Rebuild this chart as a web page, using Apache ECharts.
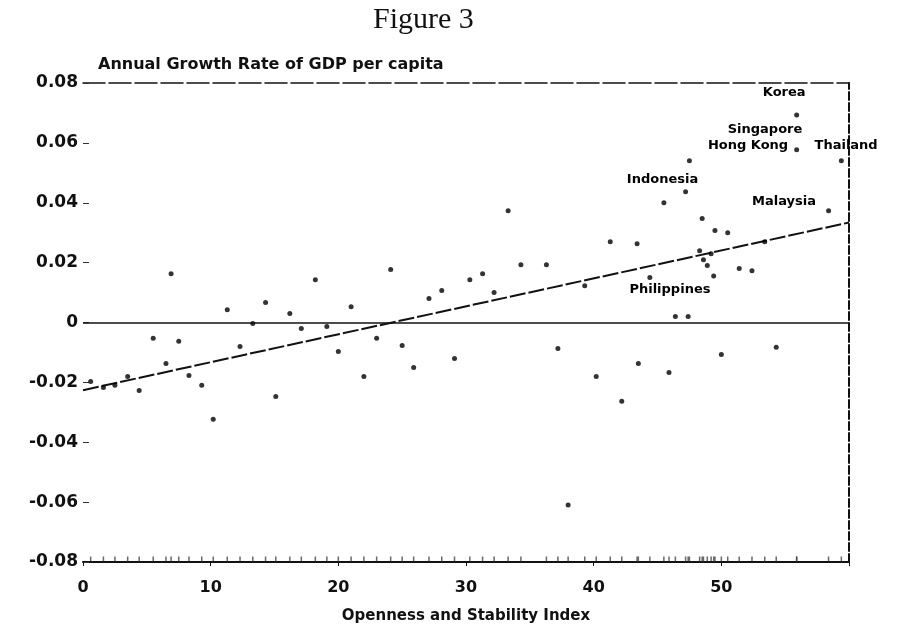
<!DOCTYPE html>
<html>
<head>
<meta charset="utf-8">
<script src="https://cdn.jsdelivr.net/npm/echarts@6/dist/echarts.min.js"></script>
<style>
  html, body { margin: 0; padding: 0; background: #fff; }
  #chart { width: 900px; height: 637px; }
</style>
</head>
<body>
<div id="chart"></div>
<script>
// openness index (x) and annual GDP per capita growth (y)
const pointsX = [0.6, 1.6, 2.5, 3.5, 4.4, 5.5, 6.5, 6.9, 7.5, 8.3, 9.3, 10.2, 11.3, 12.3, 13.3,
  14.3, 15.1, 16.2, 17.1, 18.2, 19.1, 20.0, 21.0, 22.0, 23.0, 24.1, 25.0, 25.9, 27.1, 28.1,
  29.1, 30.3, 31.3, 32.2, 33.3, 34.3, 36.3, 37.2, 38.0, 39.3, 40.2, 41.3, 42.2, 43.4, 43.5,
  44.4, 45.5, 45.9, 46.4, 47.2, 47.4, 47.5, 48.5, 48.3, 48.6, 48.9, 49.2, 49.4, 49.5, 50.0,
  50.5, 51.4, 52.4, 53.4, 54.3, 55.9, 55.9, 58.4, 59.4];
const pointsY = [-0.0197, -0.0217, -0.021, -0.018, -0.0227, -0.0053, -0.0137, 0.0163, -0.0063,
  -0.0177, -0.021, -0.0323, 0.0043, -0.008, -0.0003, 0.0067, -0.0247, 0.003, -0.002, 0.0143,
  -0.0013, -0.0097, 0.0053, -0.018, -0.0053, 0.0177, -0.0077, -0.015, 0.008, 0.0107, -0.012,
  0.0143, 0.0163, 0.010, 0.0373, 0.0193, 0.0193, -0.0087, -0.061, 0.0123, -0.018, 0.027,
  -0.0263, 0.0263, -0.0137, 0.015, 0.040, -0.0167, 0.002, 0.0437, 0.002, 0.054, 0.0347,
  0.024, 0.021, 0.019, 0.023, 0.0155, 0.0307, -0.0107, 0.030, 0.018, 0.0173, 0.027, -0.0083,
  0.0693, 0.0577, 0.0373, 0.054];

// fitted line end points
const trendX = [0, 60];
const trendY = [-0.0226, 0.0334];

// country annotations (start of each text, in data units)
const labelNames = ['Korea', 'Singapore', 'Hong Kong', 'Thailand', 'Indonesia', 'Malaysia', 'Philippines'];
const labelX = [53.25, 50.5, 48.95, 57.3, 42.6, 52.4, 42.8];
const labelY = [0.0767, 0.0643, 0.059, 0.059, 0.0477, 0.0403, 0.011];

const xTicks = [0, 10, 20, 30, 40, 50];

const ink = '#111';
const sans = 'DejaVu Sans';

const chart = echarts.init(document.getElementById('chart'));

chart.setOption({
  backgroundColor: '#fff',
  animation: false,
  title: [
    {
      text: 'Figure 3',
      left: 368,
      top: 0,
      textStyle: { fontFamily: 'Liberation Serif', fontSize: 30, fontWeight: 'normal', color: ink }
    },
    {
      text: 'Annual Growth Rate of GDP per capita',
      left: 93,
      top: 52,
      textStyle: { fontFamily: sans, fontSize: 16, fontWeight: 'bold', color: ink }
    }
  ],
  grid: { left: 83, right: 51, top: 83, bottom: 75 },
  xAxis: [
    {
      type: 'value',
      min: 0,
      max: 60,
      interval: 10,
      name: 'Openness and Stability Index',
      nameLocation: 'middle',
      nameGap: 47,
      nameTextStyle: { fontFamily: sans, fontSize: 15, fontWeight: 'bold', color: ink },
      axisLine: { onZero: false, lineStyle: { color: ink, width: 2 } },
      axisTick: { show: true, length: 4, lineStyle: { color: ink } },
      axisLabel: {
        margin: 18,
        fontFamily: sans,
        fontSize: 16,
        fontWeight: 'bold',
        color: ink,
        formatter: v => (xTicks.indexOf(v) >= 0 ? String(v) : '')
      },
      splitLine: { show: false }
    },
    {
      type: 'value',
      position: 'top',
      min: 0,
      max: 60,
      axisLine: { show: true, onZero: false, lineStyle: { color: ink, width: 1.5, type: [22, 4] } },
      axisTick: { show: false },
      axisLabel: { show: false },
      splitLine: { show: false }
    }
  ],
  yAxis: [
    {
      type: 'value',
      min: -0.08,
      max: 0.08,
      interval: 0.02,
      axisLine: { show: false, onZero: false },
      axisTick: { show: true, inside: true, length: 6, lineStyle: { color: '#333' } },
      axisLabel: {
        margin: 5,
        fontFamily: sans,
        fontSize: 17,
        fontWeight: 'bold',
        color: ink,
        formatter: v => (Math.abs(v) < 1e-9 ? '0' : v.toFixed(2))
      },
      splitLine: { show: false }
    },
    {
      type: 'value',
      position: 'right',
      min: -0.08,
      max: 0.08,
      axisLine: { show: true, onZero: false, lineStyle: { color: ink, width: 2, type: [8, 3] } },
      axisTick: { show: false },
      axisLabel: { show: false },
      splitLine: { show: false }
    }
  ],
  series: [
    {
      name: 'countries',
      type: 'scatter',
      symbol: 'circle',
      symbolSize: 5,
      itemStyle: { color: '#000' },
      data: pointsX.map((x, i) => [x, pointsY[i]]),
      markLine: {
        silent: true,
        symbol: 'none',
        label: { show: false },
        lineStyle: { color: ink, width: 1.5, type: 'solid' },
        data: [{ yAxis: 0 }]
      },
      z: 3
    },
    {
      name: 'rug',
      type: 'scatter',
      symbol: 'rect',
      symbolSize: [1.5, 5],
      symbolOffset: [0, -3],
      itemStyle: { color: '#444' },
      data: pointsX.map(x => [x, -0.08]),
      z: 2
    },
    {
      name: 'fit',
      type: 'line',
      symbol: 'none',
      lineStyle: { color: ink, width: 2, type: [16, 3] },
      data: trendX.map((x, i) => [x, trendY[i]]),
      z: 2
    },
    {
      name: 'labels',
      type: 'scatter',
      symbolSize: 0,
      silent: true,
      itemStyle: { color: '#000', opacity: 1 },
      data: labelNames.map((n, i) => ({ name: n, value: [labelX[i], labelY[i]] })),
      label: {
        show: true,
        position: 'right',
        distance: 0,
        formatter: p => p.name,
        fontFamily: sans,
        fontSize: 13,
        fontWeight: 'bold',
        color: '#000'
      },
      z: 4
    }
  ]
});
</script>
</body>
</html>
